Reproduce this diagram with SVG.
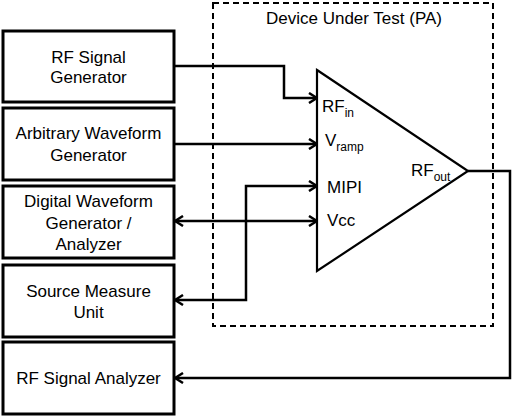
<svg xmlns="http://www.w3.org/2000/svg" width="513" height="417" viewBox="0 0 513 417">
<style>
.box{fill:#fff;stroke:#000;stroke-width:3}
.t{font-family:"Liberation Sans",Arial,sans-serif;font-size:17px;fill:#000}
.c{text-anchor:middle}
.sub{font-size:12px}
.ln{fill:none;stroke:#000;stroke-width:2.5}
</style>
<defs>
<marker id="arr" viewBox="0 0 10 12" refX="9" refY="6" markerWidth="10" markerHeight="12" markerUnits="userSpaceOnUse" orient="auto-start-reverse">
<path d="M1,1 L9,6 L1,11" fill="none" stroke="#000" stroke-width="2.5"/>
</marker>
</defs>
<rect width="513" height="417" fill="#fff"/>
<g id="dut">
<rect x="213" y="3" width="280" height="323" fill="none" stroke="#000" stroke-width="2" stroke-dasharray="6,4"/>
<text class="t c" x="354" y="24">Device Under Test (PA)</text>
</g>
<g id="pa">
<polygon points="317,70 468,171 317,271" fill="#fff" stroke="#000" stroke-width="2.2"/>
<text class="t" x="322" y="112">RF<tspan class="sub" dy="5">in</tspan></text>
<text class="t" x="325" y="146">V<tspan class="sub" dy="5">ramp</tspan></text>
<text class="t" x="327" y="193">MIPI</text>
<text class="t" x="327" y="226">Vcc</text>
<text class="t" x="411" y="176">RF<tspan class="sub" dy="5">out</tspan></text>
</g>
<g id="rfgen">
<rect class="box" x="3" y="31" width="171" height="71"/>
<text class="t c" x="88.5" y="63">RF Signal</text>
<text class="t c" x="88.5" y="83">Generator</text>
</g>
<g id="awg">
<rect class="box" x="3" y="108" width="171" height="72"/>
<text class="t c" x="88.5" y="139">Arbitrary Waveform</text>
<text class="t c" x="88.5" y="161">Generator</text>
</g>
<g id="dwg">
<rect class="box" x="3" y="186" width="171" height="72"/>
<text class="t c" x="88.5" y="207">Digital Waveform</text>
<text class="t c" x="88.5" y="229">Generator /</text>
<text class="t c" x="88.5" y="250">Analyzer</text>
</g>
<g id="smu">
<rect class="box" x="3" y="265" width="171" height="72"/>
<text class="t c" x="88.5" y="297">Source Measure</text>
<text class="t c" x="88.5" y="318">Unit</text>
</g>
<g id="rfsa">
<rect class="box" x="3" y="342" width="171" height="72"/>
<text class="t c" x="88.5" y="384">RF Signal Analyzer</text>
</g>
<g id="connectors">
<path class="ln" d="M174,66 H284 V98 H317" marker-end="url(#arr)"/>
<path class="ln" d="M174,144 H317" marker-end="url(#arr)"/>
<path class="ln" d="M175,300 H246 V186 H317" marker-start="url(#arr)" marker-end="url(#arr)"/>
<path class="ln" d="M175,221 H317" marker-start="url(#arr)" marker-end="url(#arr)"/>
<path class="ln" d="M468,171 H510 V378 H175" marker-end="url(#arr)"/>
</g>
</svg>
